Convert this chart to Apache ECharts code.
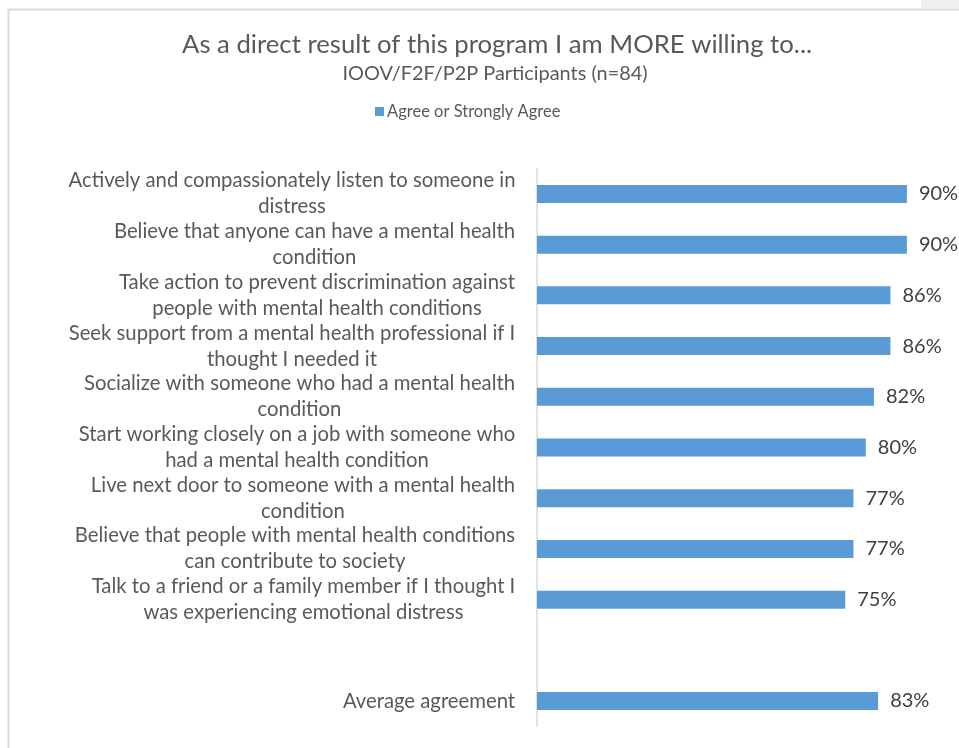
<!DOCTYPE html>
<html>
<head>
<meta charset="utf-8">
<style>
  html, body { margin: 0; padding: 0; background: #ffffff; }
  #chart { width: 959px; height: 748px; }
</style>
<script src="https://cdn.jsdelivr.net/npm/echarts@6/dist/echarts.min.js"></script>
</head>
<body>
<div id="chart"></div>
<script>
// Statements, top to bottom; the blank entry leaves a gap before the average row
const categories = [
  'Actively and compassionately listen to someone in\ndistress',
  'Believe that anyone can have a mental health\ncondition',
  'Take action to prevent discrimination against\npeople with mental health conditions',
  'Seek support from a mental health professional if I\nthought I needed it',
  'Socialize with someone who had a mental health\ncondition',
  'Start working closely on a job with someone who\nhad a mental health condition',
  'Live next door to someone with a mental health\ncondition',
  'Believe that people with mental health conditions\ncan contribute to society',
  'Talk to a friend or a family member if I thought I\nwas experiencing emotional distress',
  '',
  'Average agreement'
];

// Percent who agree or strongly agree
const agreeValues = [90, 90, 86, 86, 82, 80, 77, 77, 75, null, 83];

const seriesName = 'Agree or Strongly Agree';
const titleText = 'As a direct result of this program I am MORE willing to...';
const subtitleText = 'IOOV/F2F/P2P Participants (n=84)';

const FONT = 'Lato, "Open Sans", sans-serif';
const TEXT_COLOR = '#595959';
const LABEL_SIZE = 20.3;

// Each wrapped category label is centred line-by-line inside a box as wide as its longest line
const measureCtx = document.createElement('canvas').getContext('2d');
measureCtx.font = LABEL_SIZE + 'px ' + FONT;
const richStyles = {};
categories.forEach(function (label, i) {
  const lines = label.split('\n');
  let w = 0;
  lines.forEach(function (l) { w = Math.max(w, measureCtx.measureText(l).width); });
  richStyles['c' + i] = {
    width: Math.ceil(w) + 1,
    align: 'center',
    fontFamily: FONT,
    fontSize: LABEL_SIZE,
    lineHeight: 26,
    color: TEXT_COLOR
  };
});

const chart = echarts.init(document.getElementById('chart'), null, { renderer: 'canvas' });

chart.setOption({
  backgroundColor: '#ffffff',
  animation: false,
  textStyle: { fontFamily: FONT },
  title: [
    {
      text: titleText,
      left: 492,
      top: 27,
      textAlign: 'center',
      textStyle: { fontFamily: FONT, fontSize: 25.7, fontWeight: 'normal', color: TEXT_COLOR }
    },
    {
      text: subtitleText,
      left: 490,
      top: 59,
      textAlign: 'center',
      textStyle: { fontFamily: FONT, fontSize: 19.9, fontWeight: 'normal', color: TEXT_COLOR }
    }
  ],
  legend: {
    data: [seriesName],
    left: 370,
    top: 98,
    icon: 'rect',
    itemWidth: 9,
    itemHeight: 9,
    itemGap: 5,
    textStyle: { fontFamily: FONT, fontSize: 16.5, color: TEXT_COLOR, padding: [0, 0, 0, -2] }
  },
  grid: {
    left: 537,
    right: 11,
    top: 168.6,
    bottom: 21.6,
    outerBoundsMode: 'none'
  },
  xAxis: {
    type: 'value',
    min: 0,
    max: 100,
    show: false
  },
  yAxis: {
    type: 'category',
    data: categories,
    inverse: true,
    axisTick: { show: false },
    axisLine: { lineStyle: { color: '#d9d9d9', width: 1.5 } },
    axisLabel: {
      margin: 21,
      interval: 0,
      formatter: function (value, index) {
        if (!value) return '';
        return value.split('\n').map(function (l) { return '{c' + index + '|' + l + '}'; }).join('\n');
      },
      rich: richStyles
    }
  },
  series: [
    {
      name: seriesName,
      type: 'bar',
      data: agreeValues,
      barWidth: 18,
      itemStyle: { color: '#5b9bd5' },
      label: {
        show: true,
        position: 'right',
        distance: 12,
        formatter: '{c}%',
        fontFamily: FONT,
        fontSize: 20,
        color: '#404040'
      }
    }
  ],
  graphic: [
    // frame around the chart area
    { type: 'rect', silent: true, shape: { x: 921, y: 0, width: 38, height: 8 }, style: { fill: '#f0f0f0' } },
    { type: 'line', silent: true, shape: { x1: 8, y1: 9.5, x2: 959, y2: 9.5 }, style: { stroke: '#d9d9d9', lineWidth: 2 } },
    { type: 'line', silent: true, shape: { x1: 8.5, y1: 9, x2: 8.5, y2: 748 }, style: { stroke: '#d9d9d9', lineWidth: 2 } }
  ]
});
</script>
</body>
</html>
